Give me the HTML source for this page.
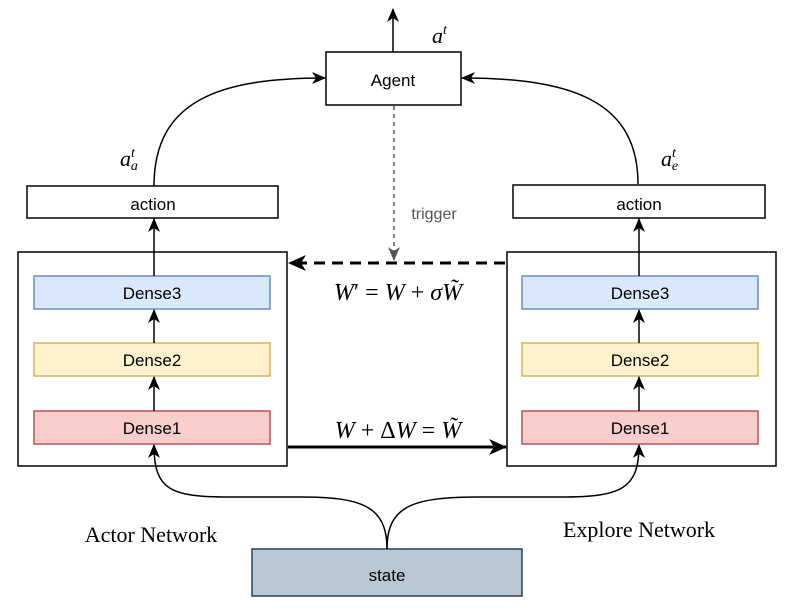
<!DOCTYPE html>
<html><head><style>body{margin:0;background:#fff}</style></head><body>
<svg width="790" height="606" viewBox="0 0 790 606" xmlns="http://www.w3.org/2000/svg" font-family="Liberation Sans, sans-serif">
<defs>
<marker id="a" markerWidth="14" markerHeight="14" refX="13" refY="7" orient="auto" markerUnits="userSpaceOnUse"><path d="M0,1 L14,7 L0,13 L4,7 z" fill="#000"/></marker>
<marker id="b" markerWidth="18" markerHeight="18" refX="17" refY="9" orient="auto" markerUnits="userSpaceOnUse"><path d="M0,1 L18,9 L0,17 L5,9 z" fill="#000"/></marker>
<marker id="g" markerWidth="14" markerHeight="14" refX="13" refY="7" orient="auto" markerUnits="userSpaceOnUse"><path d="M0,1 L14,7 L0,13 L4,7 z" fill="#555"/></marker>
</defs>
<g fill="none" stroke="#000" stroke-width="1.5">
<rect x="18" y="252" width="269" height="214"/>
<rect x="507" y="252" width="269" height="214"/>
<rect x="27" y="186" width="251" height="32"/>
<rect x="513" y="185" width="252" height="33"/>
<rect x="326" y="52" width="135" height="53"/>
</g>
<g stroke-width="1.5">
<rect x="34" y="276" width="236" height="33" fill="#dae8fc" stroke="#6c8ebf"/>
<rect x="34" y="343" width="236" height="33" fill="#fff2cc" stroke="#d6b656"/>
<rect x="34" y="411" width="236" height="33" fill="#f8cecc" stroke="#b85450"/>
<rect x="522" y="276" width="236" height="33" fill="#dae8fc" stroke="#6c8ebf"/>
<rect x="522" y="343" width="236" height="33" fill="#fff2cc" stroke="#d6b656"/>
<rect x="522" y="411" width="236" height="33" fill="#f8cecc" stroke="#b85450"/>
<rect x="252" y="549" width="270" height="47" fill="#bac8d3" stroke="#23445d"/>
</g>
<g fill="none" stroke="#000" stroke-width="1.5">
<path d="M154,276 V219" marker-end="url(#a)"/>
<path d="M154,343 V310" marker-end="url(#a)"/>
<path d="M154,411 V377" marker-end="url(#a)"/>
<path d="M639,276 V219" marker-end="url(#a)"/>
<path d="M639,343 V310" marker-end="url(#a)"/>
<path d="M639,411 V377" marker-end="url(#a)"/>
<path d="M154,186 C154,100 220,78 325,78" marker-end="url(#a)"/>
<path d="M638,184 C638,100 570,78 462,78" marker-end="url(#a)"/>
<path d="M393,52 V9" marker-end="url(#a)"/>
<path d="M387,549 C387,505 360,497 300,497 L230,497 C170,497 154,490 154,445" marker-end="url(#a)"/>
<path d="M387,549 C387,505 414,497 480,497 L560,497 C620,497 639,490 639,445" marker-end="url(#a)"/>
<path d="M288,447 H506" stroke-width="3" marker-end="url(#b)"/>
<path d="M505,263 H289" stroke-width="3" stroke-dasharray="11,7" marker-end="url(#b)"/>
<path d="M394,106 V260" stroke="#555" stroke-dasharray="4,4" marker-end="url(#g)"/>
</g>
<g font-size="17" text-anchor="middle" fill="#000">
<text x="153" y="210">action</text>
<text x="639" y="210">action</text>
<text x="393" y="86">Agent</text>
<text x="152" y="299">Dense3</text>
<text x="152" y="366">Dense2</text>
<text x="152" y="434">Dense1</text>
<text x="640" y="299">Dense3</text>
<text x="640" y="366">Dense2</text>
<text x="640" y="434">Dense1</text>
<text x="387" y="581">state</text>
<text x="434" y="219" fill="#555" font-size="16">trigger</text>
</g>
<g font-family="Liberation Serif, serif" fill="#000">
<text x="432" y="43" font-size="22" font-style="italic">a<tspan dy="-9" font-size="14">t</tspan></text>
<text x="120" y="166" font-size="22" font-style="italic">a<tspan dy="-9" font-size="14">t</tspan><tspan dx="-4" dy="13" font-size="14">a</tspan></text>
<text x="661" y="166" font-size="22" font-style="italic">a<tspan dy="-9" font-size="14">t</tspan><tspan dx="-4" dy="13" font-size="14">e</tspan></text>
<text x="398" y="300" font-size="24" text-anchor="middle"><tspan font-style="italic">W</tspan>′ = <tspan font-style="italic">W</tspan> + <tspan font-style="italic">σW̃</tspan></text>
<text x="398" y="438" font-size="24" text-anchor="middle"><tspan font-style="italic">W</tspan> + Δ<tspan font-style="italic">W</tspan> = <tspan font-style="italic">W̃</tspan></text>
<text x="151" y="542" font-size="22" text-anchor="middle">Actor Network</text>
<text x="639" y="537" font-size="22" text-anchor="middle">Explore Network</text>
</g>
</svg>
</body></html>
